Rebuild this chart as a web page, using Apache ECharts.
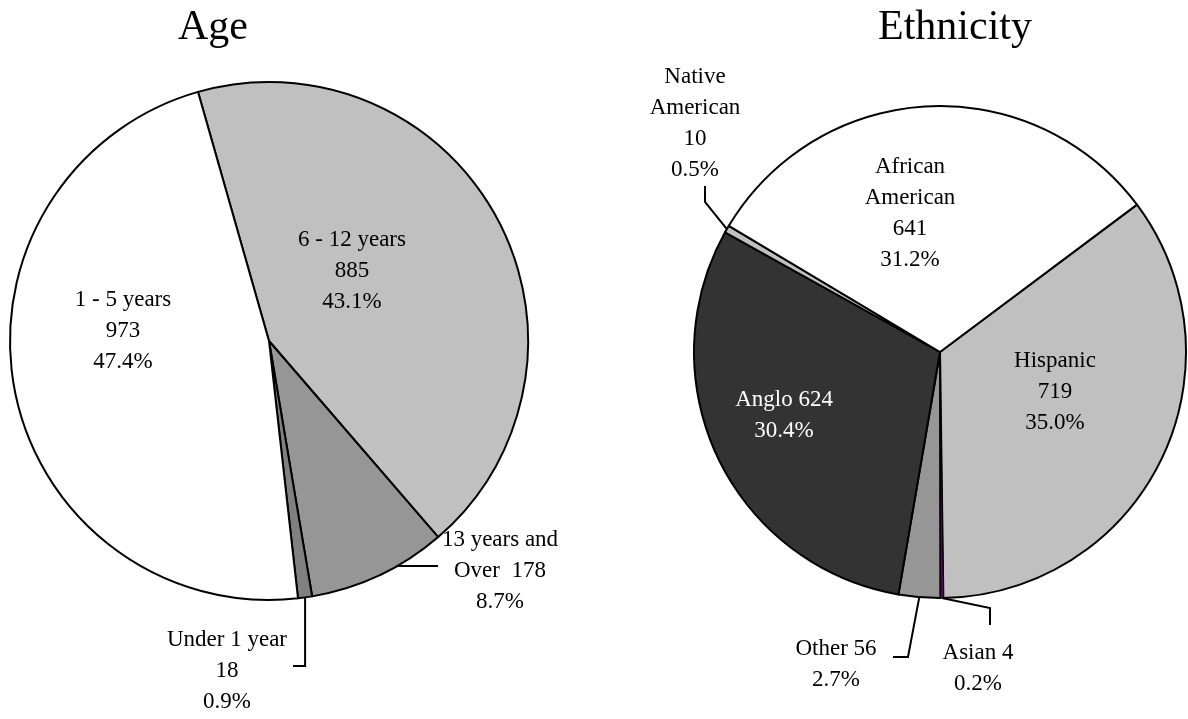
<!DOCTYPE html>
<html>
<head>
<meta charset="utf-8">
<script src="https://cdn.jsdelivr.net/npm/echarts@6/dist/echarts.min.js"></script>
<style>
html,body{margin:0;padding:0;background:#fff;}
#chart{width:1188px;height:719px;}
</style>
</head>
<body>
<div id="chart"></div>
<script>
// ---- Data ----
const ageCategories = ['6 - 12 years', '13 years and Over', 'Under 1 year', '1 - 5 years'];
const ageValues = [885, 178, 18, 973];
const ageLabelPrefix = ['6 - 12 years\n', '13 years and\nOver  ', 'Under 1 year\n', '1 - 5 years\n'];
const ageColors = ['#c0c0c0', '#969696', '#808080', '#ffffff'];

const ethCategories = ['Hispanic', 'Asian', 'Other', 'Anglo', 'Native American', 'African American'];
const ethValues = [719, 4, 56, 624, 10, 641];
const ethLabelPrefix = ['Hispanic\n', 'Asian ', 'Other ', 'Anglo ', 'Native\nAmerican\n', 'African\nAmerican\n'];
const ethColors = ['#c0c0c0', '#800080', '#969696', '#333333', '#c0c0c0', '#ffffff'];

// ---- Layout (label placement, styles) ----
const FONT = "'Liberation Serif', 'Times New Roman', serif";
const ageLabelPos = [[352, 271], [500, 571], [227, 671], [123, 331]];
const ethLabelPos = [[1055, 392], [978, 668], [836, 664], [784, 415], [695, 123], [910, 213]];
// leader line elbows (null x = straight from anchor)
const ageGuides = [null, [[397, 566], [438, 566]], [[null, 666], [293, 666]], null];
const ethGuides = [null, [[990, 608], [990, 625]], [[908, 657], [893, 657]], null, [[705, 202], [705, 186]], null];
const ageOutside = [false, true, true, false];
const ethOutside = [false, true, true, false, true, false];
const ethLabelColor = ['#000', '#000', '#000', '#fff', '#000', '#000'];
const ethBorder = [2, 1, 2, 2, 2, 2];

function sum(a) { return a.reduce((s, v) => s + v, 0); }

function buildData(cats, vals, colors, prefixes, outside, labelColors, borders) {
  const total = sum(vals);
  return cats.map((c, i) => ({
    name: c,
    value: vals[i],
    itemStyle: { color: colors[i], borderWidth: borders ? borders[i] : 2 },
    label: {
      show: true,
      position: outside[i] ? 'outside' : 'inside',
      color: labelColors ? labelColors[i] : '#000',
      formatter: prefixes[i] + vals[i] + '\n' + (vals[i] / total * 100).toFixed(1) + '%'
    },
    labelLine: { show: outside[i] }
  }));
}

function makeLayout(pos, guides) {
  return function (params) {
    const i = params.dataIndex;
    const res = { x: pos[i][0], y: pos[i][1], align: 'center', verticalAlign: 'middle' };
    const g = guides[i];
    if (g && params.labelLinePoints) {
      const a = params.labelLinePoints[0];
      const p2 = [g[0][0] == null ? a[0] : g[0][0], g[0][1]];
      res.labelLinePoints = [[a[0], a[1]], p2, g[1]];
    }
    return res;
  };
}

const labelCommon = {
  fontFamily: FONT,
  fontSize: 23,
  lineHeight: 31,
  align: 'center'
};

const chart = echarts.init(document.getElementById('chart'));
chart.setOption({
  backgroundColor: '#ffffff',
  animation: false,
  title: [
    { text: 'Age', left: 208, top: 2, textAlign: 'center',
      textStyle: { fontFamily: FONT, fontSize: 42, fontWeight: 'normal', color: '#000' } },
    { text: 'Ethnicity', left: 950, top: 2, textAlign: 'center',
      textStyle: { fontFamily: FONT, fontSize: 42, fontWeight: 'normal', color: '#000' } }
  ],
  series: [
    {
      type: 'pie',
      center: [269, 341],
      radius: 259,
      startAngle: 105.9,
      clockwise: true,
      avoidLabelOverlap: false,
      itemStyle: { borderColor: '#000', borderWidth: 2 },
      label: Object.assign({}, labelCommon),
      labelLine: { show: false, lineStyle: { color: '#000', width: 2 } },
      emphasis: { disabled: true },
      labelLayout: makeLayout(ageLabelPos, ageGuides),
      data: buildData(ageCategories, ageValues, ageColors, ageLabelPrefix, ageOutside, null, null)
    },
    {
      type: 'pie',
      center: [940, 352],
      radius: 246,
      startAngle: 36.8,
      clockwise: true,
      avoidLabelOverlap: false,
      itemStyle: { borderColor: '#000', borderWidth: 2 },
      label: Object.assign({}, labelCommon),
      labelLine: { show: false, lineStyle: { color: '#000', width: 2 } },
      emphasis: { disabled: true },
      labelLayout: makeLayout(ethLabelPos, ethGuides),
      data: buildData(ethCategories, ethValues, ethColors, ethLabelPrefix, ethOutside, ethLabelColor, ethBorder)
    }
  ]
});
</script>
</body>
</html>
